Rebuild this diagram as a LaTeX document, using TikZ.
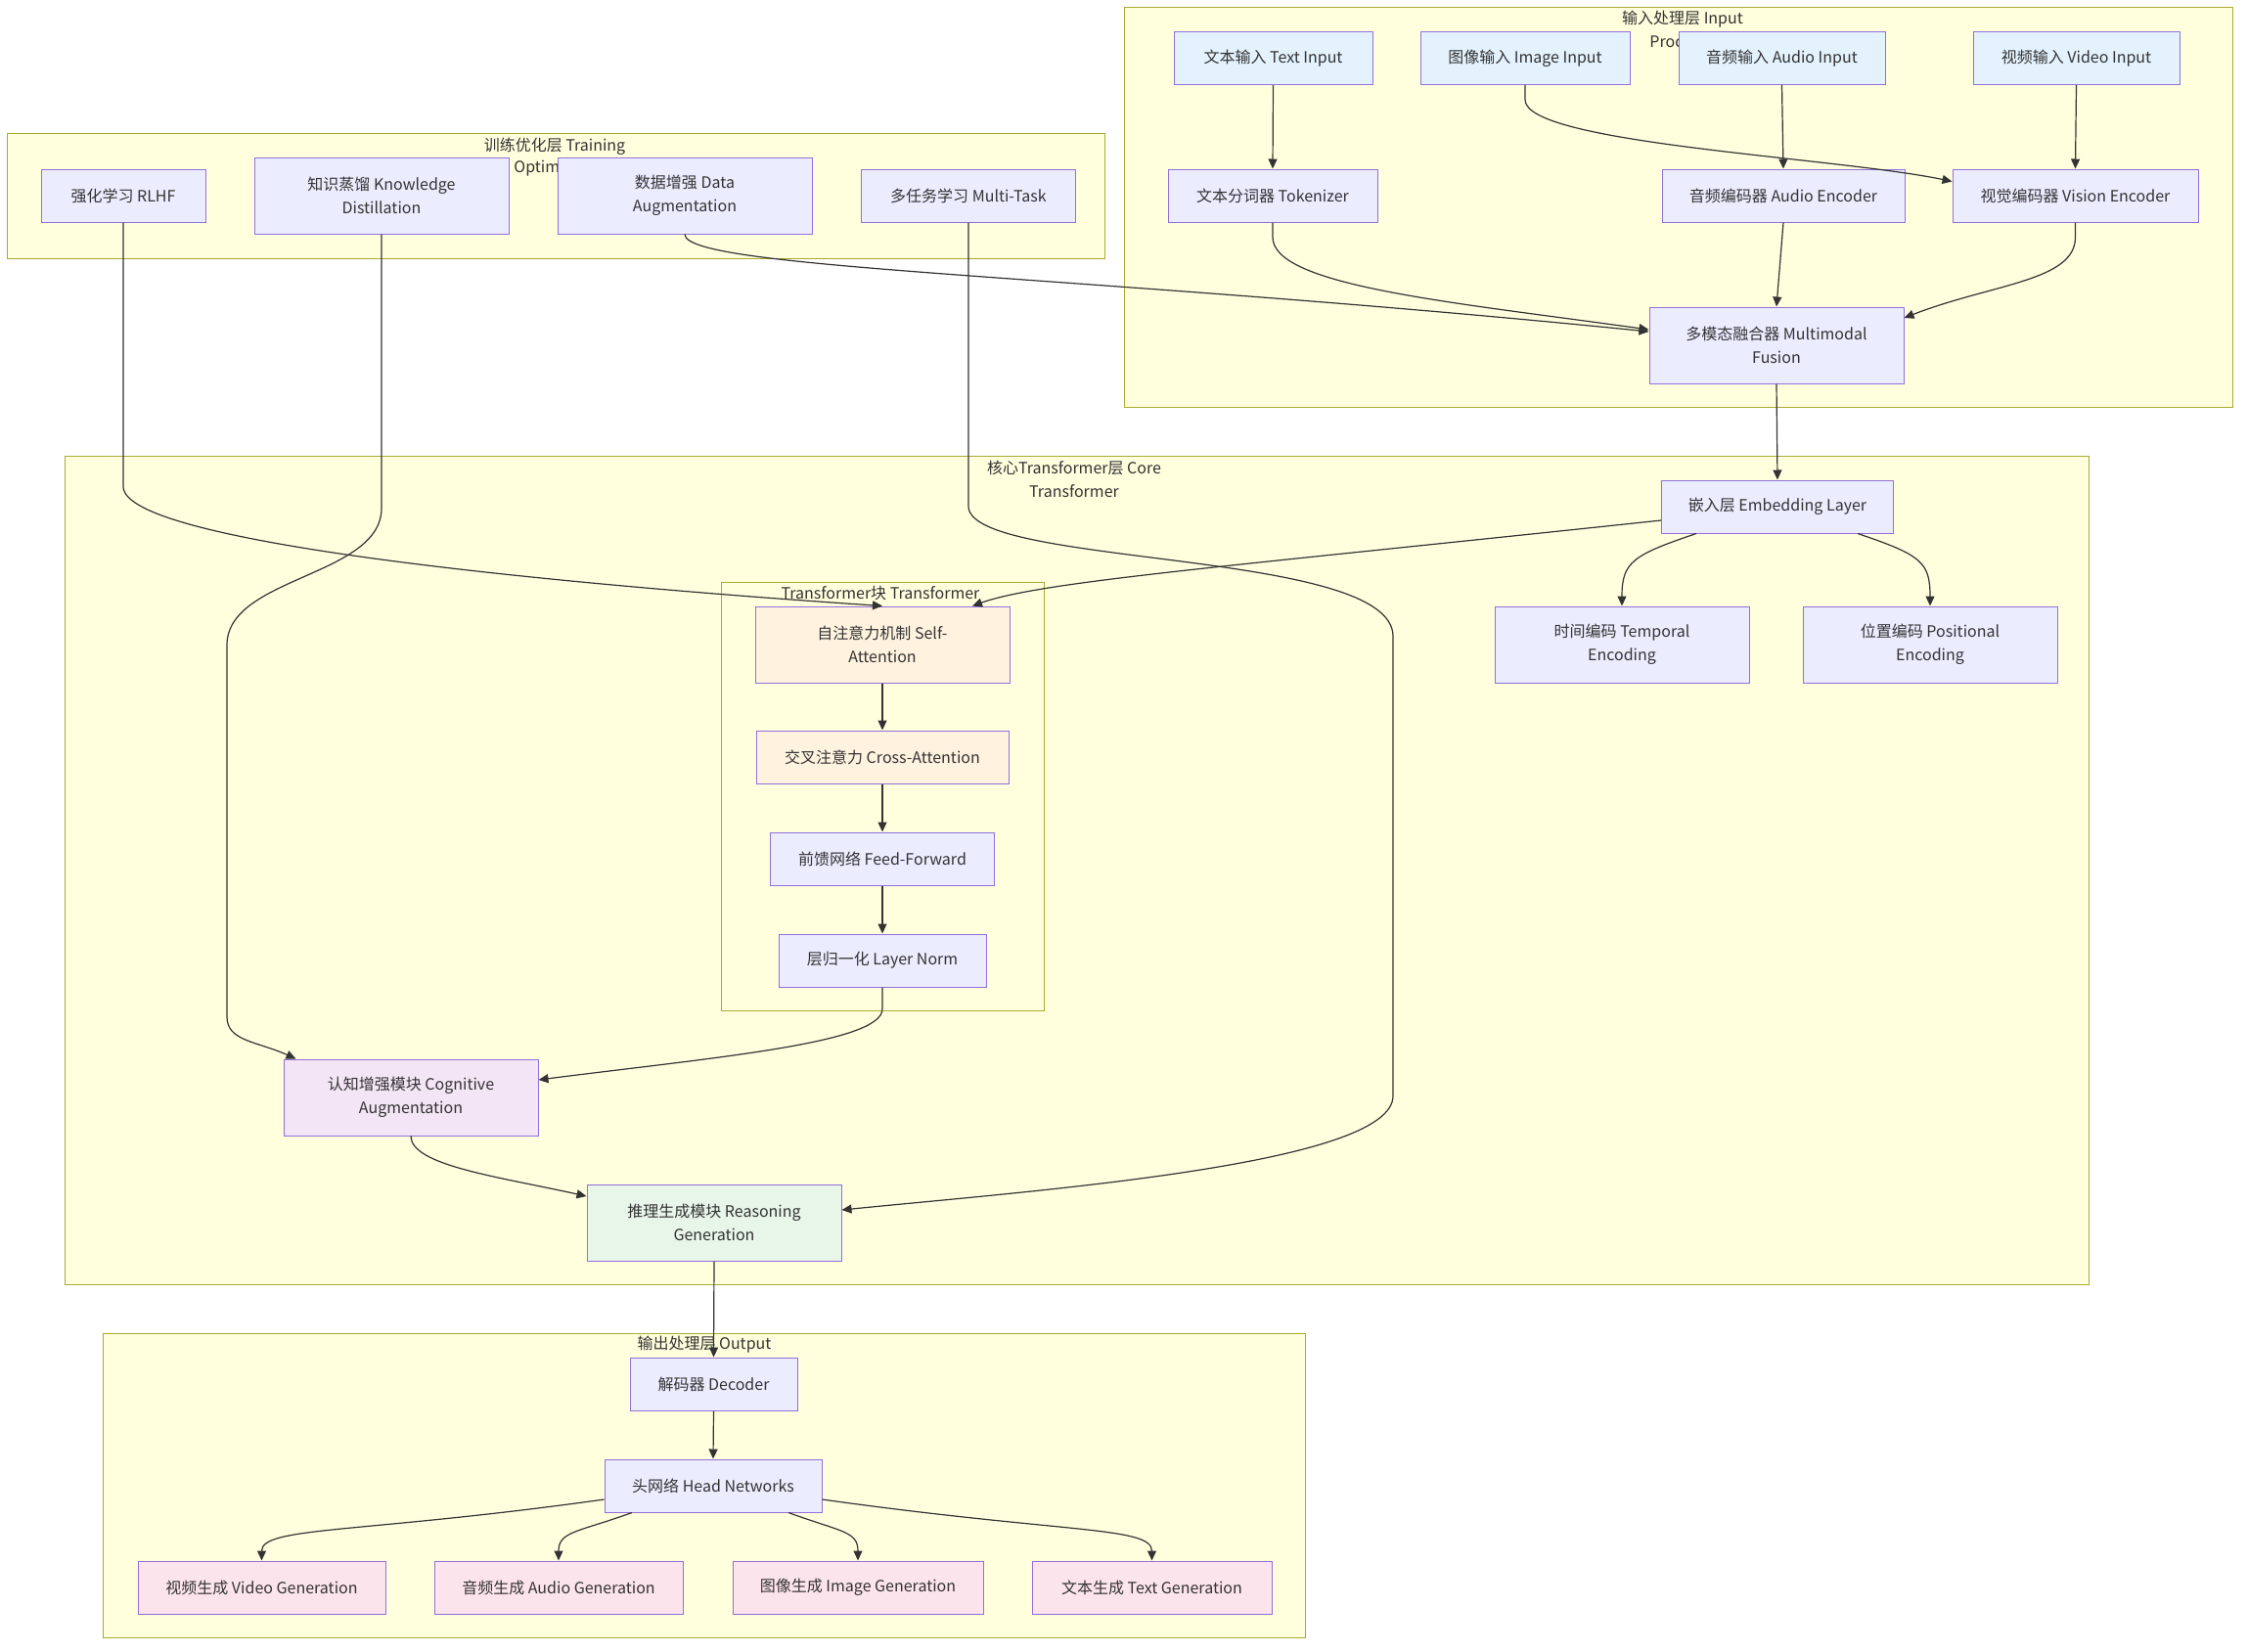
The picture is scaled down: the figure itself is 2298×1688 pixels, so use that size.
\documentclass[tikz,border=0pt]{standalone}
\usepackage{fontspec}
\setmainfont{Noto Sans CJK SC}
\usetikzlibrary{arrows.meta}

\definecolor{clfill}{HTML}{FFFFDE}
\definecolor{cldraw}{HTML}{AAAA33}
\definecolor{ndfill}{HTML}{ECECFF}
\definecolor{nddraw}{HTML}{9370DB}
\definecolor{infill}{HTML}{E3F2FD}
\definecolor{atfill}{HTML}{FFF3E0}
\definecolor{cgfill}{HTML}{F3E5F5}
\definecolor{rsfill}{HTML}{E8F5E9}
\definecolor{outfill}{HTML}{FCE4EC}
\definecolor{ink}{HTML}{333333}

\begin{document}
\begin{tikzpicture}[x=0.5pt,y=-0.5pt,font=\fontsize{8}{12}\selectfont,
	box/.style={draw=nddraw, fill=ndfill, line width=0.5pt, text=ink, align=center, inner sep=0pt, minimum height=27pt},
	tall/.style={minimum height=39pt},
	cluster/.style={draw=cldraw, fill=clfill, line width=0.5pt},
	clabel/.style={text=ink, inner sep=0pt, align=center},
	link/.style={draw=ink, line width=0.6pt, -{Triangle[length=5pt,width=4.5pt]}}]

	% Canvas
	\fill[white] (0,0) rectangle (2298,1688);
	\useasboundingbox (0,0) rectangle (2298,1688);

	% Clusters
	\draw[cluster] (1149,7) rectangle (2282,416);
	\draw[cluster] (7,136) rectangle (1129,264);
	\draw[cluster] (66,466) rectangle (2135,1313);
	\draw[cluster] (737,595) rectangle (1067,1033);
	\draw[cluster] (105,1363) rectangle (1334,1674);
	\node[clabel] (lin) at (1720,20) {输入处理层 Input};
	\node[clabel, anchor=west] (lin2) at (1686,43) {Proce};
	\node[clabel] (ltr) at (567,150) {训练优化层 Training};
	\node[clabel, anchor=west] (ltr2) at (525,172) {Optim};
	\node[clabel] (lcore) at (1098,489.5) {核心Transformer层 Core\\Transformer};
	\node[clabel] (lblk) at (900,607) {Transformer块 Transformer};
	\node[clabel] (lout) at (720,1375) {输出处理层 Output};

	% Input layer
	\node[box, fill=infill, minimum width=101.5pt] (txtin) at (1301.5,59.5) {文本输入 Text Input};
	\node[box, fill=infill, minimum width=107pt] (imgin) at (1559,59.5) {图像输入 Image Input};
	\node[box, fill=infill, minimum width=105.5pt] (audin) at (1821.5,59.5) {音频输入 Audio Input};
	\node[box, fill=infill, minimum width=105.5pt] (vidin) at (2122.5,59.5) {视频输入 Video Input};
	\node[box, minimum width=107pt] (tok) at (1301,200) {文本分词器 Tokenizer};
	\node[box, minimum width=124pt] (audenc) at (1823,200) {音频编码器 Audio Encoder};
	\node[box, minimum width=125.5pt] (visenc) at (2121.5,200) {视觉编码器 Vision Encoder};
	\node[box, tall, minimum width=130pt] (fusion) at (1816,353) {多模态融合器 Multimodal\\Fusion};

	% Training layer
	\node[box, minimum width=84pt] (rlhf) at (126,200) {强化学习 RLHF};
	\node[box, tall, minimum width=130pt] (kd) at (390,200) {知识蒸馏 Knowledge\\Distillation};
	\node[box, tall, minimum width=130pt] (aug) at (700,200) {数据增强 Data\\Augmentation};
	\node[box, minimum width=109.5pt] (mtl) at (990,200) {多任务学习 Multi-Task};

	% Core layer
	\node[box, minimum width=118.5pt] (emb) at (1817,518) {嵌入层 Embedding Layer};
	\node[box, tall, minimum width=130pt] (temp) at (1658,659) {时间编码 Temporal\\Encoding};
	\node[box, tall, minimum width=130pt] (pos) at (1973,659) {位置编码 Positional\\Encoding};
	\node[box, tall, fill=atfill, minimum width=130pt] (selfatt) at (902,659) {自注意力机制 Self-\\Attention};
	\node[box, fill=atfill, minimum width=129pt] (crossatt) at (902,774) {交叉注意力 Cross-Attention};
	\node[box, minimum width=114.5pt] (ffn) at (902,878) {前馈网络 Feed-Forward};
	\node[box, minimum width=106pt] (norm) at (902,982) {层归一化 Layer Norm};
	\node[box, tall, fill=cgfill, minimum width=130pt] (cog) at (420,1122) {认知增强模块 Cognitive\\Augmentation};
	\node[box, tall, fill=rsfill, minimum width=130pt] (reas) at (730,1250) {推理生成模块 Reasoning\\Generation};

	% Output layer
	\node[box, minimum width=85.5pt] (dec) at (729.5,1415) {解码器 Decoder};
	\node[box, minimum width=111pt] (head) at (729,1519) {头网络 Head Networks};
	\node[box, fill=outfill, minimum width=126.5pt] (vgen) at (267.5,1623) {视频生成 Video Generation};
	\node[box, fill=outfill, minimum width=127pt] (agen) at (571,1623) {音频生成 Audio Generation};
	\node[box, fill=outfill, minimum width=128pt] (igen) at (877,1623) {图像生成 Image Generation};
	\node[box, fill=outfill, minimum width=122.5pt] (tgen) at (1177.5,1623) {文本生成 Text Generation};

	% Input links
	\draw[link] (txtin.south) -- (tok.north);
	\draw[link] (imgin.south) -- ++(0,15) .. controls +(0,45) and +(-120,-25) .. ([yshift=-6.5pt]visenc.north west);
	\draw[link] (audin.south) -- (audenc.north);
	\draw[link] (vidin.south) -- (visenc.north);
	\draw[link] (tok.south) -- ++(0,15) .. controls +(0,50) and +(-200,-28) .. ([yshift=8pt]fusion.west);
	\draw[link] (audenc.south) -- (fusion.north);
	\draw[link] (visenc.south) -- ++(0,15) .. controls +(0,45) and +(90,-35) .. ([yshift=14pt]fusion.east);
	\draw[link] (aug.south) .. controls +(0,36) and +(-586,-59) .. ([yshift=7pt]fusion.west);
	\draw[link] (fusion.south) -- (emb.north);

	% Core links
	\draw[link] ([yshift=-7pt]emb.west) .. controls +(-450,48) and +(70,-25) .. ([xshift=46pt]selfatt.north);
	\draw[link] ([xshift=-41.5pt]emb.south) .. controls +(-65,22) and +(0,-45) .. (temp.north);
	\draw[link] ([xshift=41pt]emb.south) .. controls +(65,22) and +(0,-45) .. (pos.north);
	\draw[link] (rlhf.south) -- ++(0,270) .. controls +(0,60) and +(-300,-20) .. (selfatt.north);
	\draw[link] (kd.south) -- ++(0,280) .. controls +(0,70) and +(0,-70) .. ++(-158,140) -- ++(0,380) .. controls +(0,25) and +(-40,-18) .. ([xshift=6.5pt]cog.north west);
	\draw[link] (mtl.south) -- ++(0,290) .. controls +(0,63) and +(0,-90) .. ++(434,133) -- ++(0,470) .. controls +(0,70) and +(200,-20) .. ([yshift=6.5pt]reas.east);
	\draw[link] (selfatt.south) -- (crossatt.north);
	\draw[link] (crossatt.south) -- (ffn.north);
	\draw[link] (ffn.south) -- (norm.north);
	\draw[link] (norm.south) -- ++(0,22) .. controls +(0,35) and +(180,-23) .. ([yshift=9pt]cog.east);
	\draw[link] (cog.south) .. controls +(0,30) and +(-90,-20) .. ([yshift=13.5pt]reas.west);
	\draw[link] (reas.south) -- (dec.north);

	% Output links
	\draw[link] (dec.south) -- (head.north);
	\draw[link] ([yshift=-7pt]head.west) .. controls +(-250,35) and +(0,-35) .. (vgen.north);
	\draw[link] ([xshift=-41.5pt]head.south) .. controls +(-55,20) and +(0,-30) .. (agen.north);
	\draw[link] ([xshift=38.5pt]head.south) .. controls +(55,20) and +(0,-30) .. (igen.north);
	\draw[link] ([yshift=-7pt]head.east) .. controls +(250,35) and +(0,-35) .. (tgen.north);

\end{tikzpicture}
\end{document}
